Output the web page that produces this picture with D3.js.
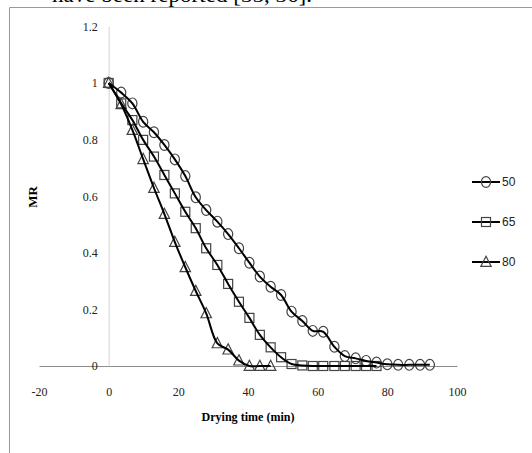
<!DOCTYPE html>
<html>
<head>
<meta charset="utf-8">
<script src="https://cdn.jsdelivr.net/npm/d3@7"></script>
<style>
  html, body { margin: 0; padding: 0; background: #fff; overflow: hidden; }
</style>
</head>
<body>
<div id="chart"></div>
<script>
// drying time (min)
const times = [0, 3.6, 6.8, 9.9, 13, 16, 19, 22, 25, 28, 31.2, 34.3, 37.4, 40.4, 43.4, 46.5,
  49.5, 52.5, 55.6, 58.6, 61.6, 64.8, 67.8, 70.9, 73.9, 76.9, 80, 83.1, 86.3, 89.4, 92.2];

// MR for each temperature
const mr50 = [1.0, 0.966, 0.928, 0.863, 0.826, 0.781, 0.730, 0.671, 0.596, 0.551, 0.510, 0.466,
  0.416, 0.365, 0.316, 0.280, 0.251, 0.192, 0.159, 0.124, 0.121, 0.068, 0.035, 0.027, 0.018,
  0.012, 0.006, 0.004, 0.004, 0.004, 0.004];
const mr65 = [1.0, 0.928, 0.869, 0.799, 0.740, 0.675, 0.610, 0.545, 0.487, 0.416, 0.357, 0.290,
  0.227, 0.170, 0.110, 0.066, 0.031, 0.007, 0.002, 0, 0, 0, 0, 0, 0, 0];
const mr80 = [1.0, 0.925, 0.834, 0.731, 0.629, 0.537, 0.438, 0.349, 0.265, 0.186, 0.080, 0.058,
  0.019, 0, 0, 0];

const seriesNames = ["50", "65", "80"];
const seriesShapes = ["circle", "square", "triangle"];

const xTicks = [-20, 0, 20, 40, 60, 80, 100];
const xTickLabels = ["-20", "0", "20", "40", "60", "80", "100"];
const yTicks = [0, 0.2, 0.4, 0.6, 0.8, 1, 1.2];
const yTickLabels = ["0", "0.2", "0.4", "0.6", "0.8", "1", "1.2"];

const W = 532, H = 453;

const svg = d3.select("#chart").append("svg")
  .attr("width", W)
  .attr("height", H);

// bit of page text cut off above the figure
svg.append("text")
  .attr("x", 52)
  .attr("y", 2)
  .style("font-family", "'Liberation Serif', 'Times New Roman', serif")
  .style("font-size", "22px")
  .attr("fill", "#000")
  .attr("textLength", 260)
  .attr("lengthAdjust", "spacingAndGlyphs")
  .text("have been reported [35, 36].");

// chart area border (top + left)
svg.append("path")
  .attr("d", `M9.5,${H} V7.5 H${W}`)
  .attr("fill", "none")
  .attr("stroke", "#9a9a9a")
  .attr("stroke-width", 1);

const x = d3.scaleLinear().domain([-20, 100]).range([39, 457]);
const y = d3.scaleLinear().domain([0, 1.2]).range([366, 26.4]);

const tickFont = "'Liberation Serif', 'Times New Roman', serif";

// ==== Axes ====
const gx = svg.append("g")
  .attr("transform", `translate(0,${y(0)})`)
  .call(d3.axisBottom(x)
    .tickValues(xTicks)
    .tickFormat((d, i) => xTickLabels[i])
    .tickSize(0)
    .tickPadding(21));
gx.select(".domain").attr("stroke", "#8c8c8c");
gx.selectAll("text")
  .style("font-family", tickFont)
  .style("font-size", "12px")
  .attr("fill", "#222");

const gy = svg.append("g")
  .attr("transform", `translate(${x(0)},0)`)
  .call(d3.axisLeft(y)
    .tickValues(yTicks)
    .tickFormat((d, i) => yTickLabels[i])
    .tickSize(0)
    .tickPadding(11));
gy.select(".domain").attr("stroke", "#d4d4d4");
gy.selectAll("text")
  .style("font-family", tickFont)
  .style("font-size", "12px")
  .attr("fill", "#222");

// axis titles
svg.append("text")
  .attr("x", 248)
  .attr("y", 421)
  .attr("text-anchor", "middle")
  .style("font-family", tickFont)
  .style("font-size", "13px")
  .style("font-weight", "bold")
  .attr("textLength", 93)
  .attr("lengthAdjust", "spacingAndGlyphs")
  .text("Drying time (min)");

svg.append("text")
  .attr("transform", "translate(37,197) rotate(-90)")
  .attr("text-anchor", "middle")
  .style("font-family", tickFont)
  .style("font-size", "13px")
  .style("font-weight", "bold")
  .text("MR");

// ==== Series ====
const series = [mr50, mr65, mr80].map((vals, i) => ({
  name: seriesNames[i],
  shape: seriesShapes[i],
  points: vals.map((v, j) => ({ t: times[j], mr: v }))
}));

const line = d3.line()
  .x(d => x(d.t))
  .y(d => y(d.mr))
  .curve(d3.curveCatmullRom.alpha(0.5));

function drawMarker(g, shape, cx, cy) {
  const stroke = "#444";
  if (shape === "circle") {
    g.append("ellipse")
      .attr("cx", cx).attr("cy", cy)
      .attr("rx", 4.6).attr("ry", 5.4)
      .attr("fill", "none").attr("stroke", stroke).attr("stroke-width", 1.2);
  } else if (shape === "square") {
    g.append("rect")
      .attr("x", cx - 4.5).attr("y", cy - 4.5)
      .attr("width", 9).attr("height", 9)
      .attr("fill", "none").attr("stroke", stroke).attr("stroke-width", 1.2);
  } else {
    g.append("path")
      .attr("d", `M${cx},${cy - 5.8} L${cx + 5.2},${cy + 4.4} L${cx - 5.2},${cy + 4.4} Z`)
      .attr("fill", "none").attr("stroke", stroke).attr("stroke-width", 1.2);
  }
}

const plot = svg.append("g");
series.forEach(s => {
  const mg = plot.append("g").attr("class", "markers-" + s.name);
  s.points.forEach(p => drawMarker(mg, s.shape, x(p.t), y(p.mr)));
});
series.forEach(s => {
  plot.append("path")
    .datum(s.points)
    .attr("d", line)
    .attr("fill", "none")
    .attr("stroke", "#000")
    .attr("stroke-width", 2);
});

// ==== Legend ====
const legendY = d3.scalePoint().domain(seriesNames).range([182, 262]);
const leg = svg.append("g");
series.forEach(s => {
  const ly = legendY(s.name);
  leg.append("line")
    .attr("x1", 472).attr("x2", 500)
    .attr("y1", ly).attr("y2", ly)
    .attr("stroke", "#000").attr("stroke-width", 2);
  drawMarker(leg, s.shape, 486, ly);
  leg.append("text")
    .attr("x", 502)
    .attr("y", ly + 4)
    .style("font-family", "'Liberation Sans', Arial, sans-serif")
    .style("font-size", "12px")
    .attr("fill", "#222")
    .text(s.name);
});
</script>
</body>
</html>
